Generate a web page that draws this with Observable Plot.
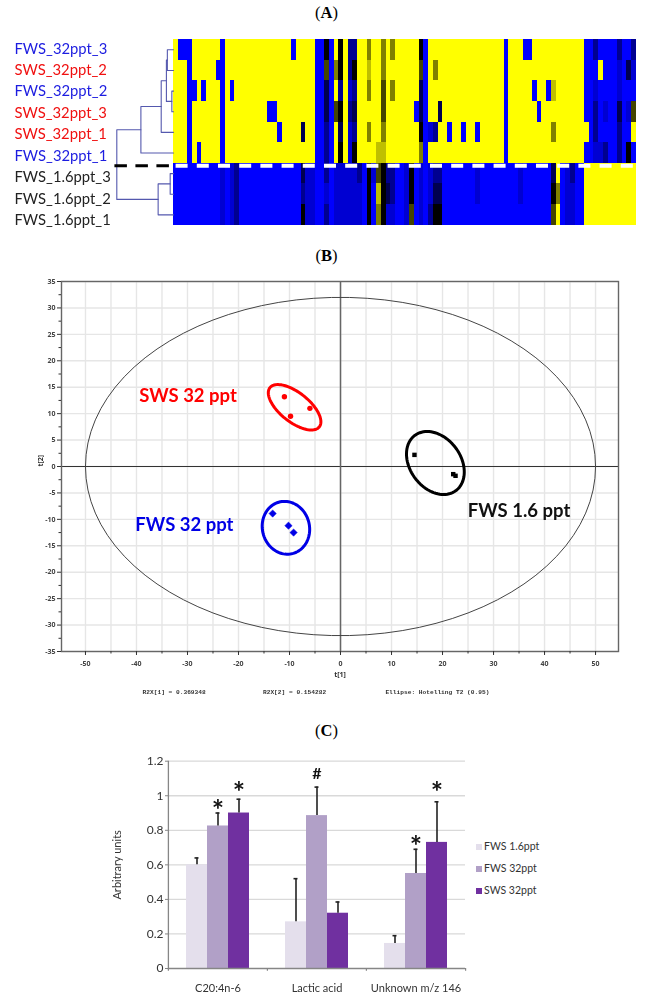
<!DOCTYPE html>
<html><head><meta charset="utf-8">
<script src="https://cdn.jsdelivr.net/npm/d3@7"></script>
<script src="https://cdn.jsdelivr.net/npm/@observablehq/plot@0.6"></script>
<style>
html,body{margin:0;padding:0;background:#fff}
#page{position:relative;width:645px;height:1000px;overflow:hidden}
.panel{position:absolute;left:0;filter:blur(0.3px)}
.panel svg{display:block;overflow:visible}
.tag{position:absolute;left:0;width:653px;text-align:center;font:16.5px "Liberation Serif",serif;line-height:20px;color:#000}
.tag b{font-weight:700}
.lg{position:absolute;left:476px;font:10.5px Lato,sans-serif;color:#333;white-space:nowrap}
.lg i{position:absolute;left:0;top:3px;width:6px;height:6px}
.lg span{position:absolute;left:8px;top:-1px}
</style></head><body><div id="page"></div>
<script>
// ---------- Panel A: heat map ----------
const sampleNames = ["FWS_32ppt_3","SWS_32ppt_2","FWS_32ppt_2","SWS_32ppt_3","SWS_32ppt_1","FWS_32ppt_1","FWS_1.6ppt_3","FWS_1.6ppt_2","FWS_1.6ppt_1"];
const sampleColors = ["#1c1ce0","#f01010","#1c1ce0","#f01010","#f01010","#1c1ce0","#222","#222","#222"];
// level per metabolite: 0 blue ... 4 black ... 8 yellow
const heatRows = [
"8000888888 0888888888 8888808888 0040848228 8688686888 8840888888 8888888888 0888008888 8888888002 00002002",
"8880888880 0888888888 8888888888 0050648248 8788688888 8850868888 8888888888 0888888888 8888888000 80001031",
"8880080888 0808888888 8888888888 0030828128 8688586888 8830888888 8888888888 0888880880 7888888001 00001000",
"8880888888 0888888888 0088888888 0030548238 8888588888 8030883888 8888888888 0888888088 8888888002 01003015",
"8880888888 0888888888 8808888388 0020838128 8688688888 8840128808 8088088888 0888888888 6888888802 00002008",
"8880808888 0888888888 8888888888 0020848148 8887788888 8860888888 8888888888 0888888888 8888888001 12002040",
"0000000000 1012000000 0000000311 0020111112 0415422001 4010122000 0000100000 0001000000 3801200888 88888888",
"0000000000 1012000000 0000000211 0010111111 0407432001 4010133000 0000100000 0001000000 4601100888 88888888",
"0000000000 1012000000 0000000411 0020111111 0406411001 5010244000 0000000000 0000000000 5801100888 88888888"
];
const heatColors = ["#0000ff","#0000d2","#000090","#000050","#000000","#444400","#808000","#bfbf00","#ffff00"];
// dendrogram merges: children are leaf rows ("r") or earlier merges ("m"), height in column widths
const merges = [
  {a:"r0",b:"r1",h:1.3},{a:"r2",b:"r3",h:0.35},{a:"m0",b:"m1",h:1.5},
  {a:"m2",b:"r4",h:2.6},{a:"m3",b:"r5",h:6.9},{a:"r6",b:"r7",h:0.7},
  {a:"m5",b:"r8",h:3.25},{a:"m4",b:"m6",h:12}
];
// ---------- Panel B: score plot ----------
const swsPoints = [[-11,13.2],[-6,11],[-9.8,9.5]];
const fws32Points = [[-13.3,-8.9],[-10.2,-11.2],[-9.2,-12.5]];
const fws16Points = [[14.5,2.2],[22.1,-1.45],[22.55,-1.76]];
const gridX = [-50,-45,-40,-35,-30,-25,-20,-15,-10,-5,0,5,10,15,20,25,30,35,40,45,50];
const gridY = [-35,-30,-25,-20,-15,-10,-5,0,5,10,15,20,25,30,35];
const labelX = [-50,-40,-30,-20,-10,0,10,20,30,40,50];
const minorY = [-32.5,-27.5,-22.5,-17.5,-12.5,-7.5,-2.5,2.5,7.5,12.5,17.5,22.5,27.5,32.5];
const rings = [ // centre, semi-axes, tilt degrees, colour
  {c:[-9,11.2],r:[6.1,2.8],t:-37,s:"#ff0000"},
  {c:[-10.7,-11.6],r:[5.05,4.6],t:-70,s:"#0000e6"},
  {c:[18.6,0.66],r:[6.6,4.9],t:-50,s:"#000"}
];
const groupLabels = [
  {t:"SWS 32 ppt",x:-29.9,y:13.4,c:"#ff0000"},
  {t:"FWS 32 ppt",x:-30.6,y:-11,c:"#0000e6"},
  {t:"FWS 1.6 ppt",x:35,y:-8.5,c:"#111"}
];
const footnotes = [
  {t:"R2X[1] = 0.369348",x:-38.8},
  {t:"R2X[2] = 0.154282",x:-15.2},
  {t:"Ellipse: Hotelling T2 (0.95)",x:8.8}
];
// ---------- Panel C: bars ----------
const categories = ["C20:4n-6","Lactic acid","Unknown m/z 146"];
const seriesNames = ["FWS 1.6ppt","FWS 32ppt","SWS 32ppt"];
const seriesColors = ["#e4dfec","#b1a0c7","#7030a0"];
const barMeans = [[0.60,0.825,0.90],[0.27,0.885,0.32],[0.145,0.55,0.73]];
const barTops  = [[0.64,0.90,0.98],[0.52,1.05,0.385],[0.19,0.69,0.965]];
const marks_c = [
  {c:0,s:1,m:"*",y:0.913},{c:0,s:2,m:"*",y:1.015},{c:1,s:1,m:"#",y:1.127},
  {c:2,s:1,m:"*",y:0.703},{c:2,s:2,m:"*",y:1.015}
];
const yTicksC = [0,0.2,0.4,0.6,0.8,1,1.2];

const page = document.getElementById("page");
function place(node, top){ const d=document.createElement("div"); d.className="panel"; d.style.top=top+"px"; d.appendChild(node); page.appendChild(d); }
function tag(letter, top){ const d=document.createElement("div"); d.className="tag"; d.style.top=top+"px"; d.innerHTML="(<b>"+letter+"</b>)"; page.appendChild(d); }

// Panel A
const cells = heatRows.flatMap((s,r)=>[...s.replace(/ /g,"")].map((ch,i)=>({i,r,v:+ch})));
const nodes = [];
const pos = id => id[0]==="r" ? {x:0,y:+id.slice(1)+0.5} : nodes[+id.slice(1)];
const dendro = merges.flatMap((m,k)=>{
  const A=pos(m.a),B=pos(m.b),x=-m.h;
  nodes.push({x,y:(A.y+B.y)/2});
  return [{k,x:A.x,y:A.y},{k,x,y:A.y},{k,x,y:B.y},{k,x:B.x,y:B.y}];
});
place(Plot.plot({
  width:645,height:240,margin:0,
  x:{domain:[-36.62,99.92],range:[0,645],axis:null},
  y:{domain:[-1.8905,9.743],range:[0,240],axis:null},
  color:{type:"linear",domain:heatColors.map((c,i)=>i),range:heatColors},
  marks:[
    Plot.rect(cells,{x1:"i",x2:d=>d.i+1,y1:"r",y2:d=>d.r+1,fill:"v",shapeRendering:"crispEdges"}),
    Plot.line(dendro,{x:"x",y:"y",z:"k",stroke:"#5458ae",strokeWidth:1.1,curve:"linear"}),
    Plot.ruleY([6.12],{x1:-12.4,x2:0,stroke:"#000",strokeWidth:3,strokeDasharray:"12.5,8.5"}),
    Plot.ruleY([6.12],{x1:0.55,x2:98,stroke:"#fff",strokeWidth:4,strokeDasharray:"12,9.2"}),
    Plot.text(sampleNames,{x:()=>-33.66,y:(d,i)=>0.45+1.04*i,text:d=>d,fill:(d,i)=>sampleColors[i],textAnchor:"start",fontFamily:"Lato",fontSize:14.8})
  ]
}),0);

// Panel B
const ellipse=(cx,cy,a,b,t)=>{const c=Math.cos(t*Math.PI/180),s=Math.sin(t*Math.PI/180);
  return d3.range(0,361,4).map(k=>{const u=a*Math.cos(k*Math.PI/180),v=b*Math.sin(k*Math.PI/180);return {x:cx+u*c-v*s,y:cy+u*s+v*c};});};
const pts=(a)=>a.map(([x,y])=>({x,y}));
place(Plot.plot({
  width:645,height:430,marginLeft:61,marginRight:27,marginTop:11,marginBottom:49,
  x:{domain:[-54.7,54.5]},
  y:{domain:[-35,35]},
  marks:[
    Plot.ruleX(gridX,{stroke:"#e6e6e6",strokeWidth:1.4}),
    Plot.ruleY(gridY,{stroke:"#e6e6e6",strokeWidth:1.4}),
    Plot.ruleY([0],{stroke:"#333",strokeWidth:1}),
    Plot.ruleX([0],{stroke:"#666",strokeWidth:1.5}),
    Plot.line(ellipse(0,0,50,32,0),{x:"x",y:"y",stroke:"#444",strokeWidth:1}),
    ...rings.map(r=>Plot.line(ellipse(r.c[0],r.c[1],r.r[0],r.r[1],r.t),{x:"x",y:"y",stroke:r.s,strokeWidth:3})),
    Plot.dot(pts(swsPoints),{x:"x",y:"y",fill:"#ff0000",r:2.7}),
    Plot.dot(pts(fws32Points),{x:"x",y:"y",fill:"#0000e6",symbol:"diamond2",r:3.3,stroke:"#0000e6",strokeWidth:0.5}),
    Plot.dot(pts(fws16Points),{x:"x",y:"y",fill:"#000",symbol:"square",r:2.5}),
    Plot.text(groupLabels,{x:"x",y:"y",text:"t",fill:"c",fontFamily:"Lato",fontWeight:700,fontSize:18.5}),
    Plot.frame({stroke:"#666",strokeWidth:1.4}),
    Plot.axisX({ticks:labelX,tickSize:4,tickPadding:6,fontSize:7,fontWeight:700,fill:"#444",stroke:"#333",label:null,tickFormat:d=>String(d)}),
    Plot.axisX({ticks:gridX,tickSize:2.5,text:null,stroke:"#333",label:null}),
    Plot.axisY({ticks:gridY,tickSize:4,tickPadding:2,fontSize:7,fontWeight:700,fill:"#444",stroke:"#333",label:null,tickFormat:d=>String(d)}),
    Plot.axisY({ticks:minorY,tickSize:2.5,text:null,stroke:"#333",label:null}),
    Plot.text(["t[1]"],{frameAnchor:"bottom",dy:25,fontSize:7,fontWeight:700,fill:"#333"}),
    Plot.text(["t[2]"],{frameAnchor:"left",dx:-21,rotate:-90,fontSize:7,fontWeight:700,fill:"#333"}),
    Plot.text(footnotes,{x:"x",y:()=>-35,dy:41,text:"t",textAnchor:"start",fontFamily:"Liberation Mono",fontWeight:700,fontSize:6.2,fill:"#333"})
  ]
}),270);

// Panel C
const bars = categories.flatMap((c,i)=>seriesNames.map((s,j)=>({c,s,m:barMeans[i][j],t:barTops[i][j]})));
const plotC = Plot.plot({
  width:645,height:275,marginLeft:168,marginRight:179.3,marginTop:35.7,marginBottom:32,
  fx:{domain:categories,padding:0,label:null},
  x:{domain:seriesNames,paddingOuter:0.755,paddingInner:0,axis:null},
  y:{domain:[0,1.2]},
  color:{domain:seriesNames,range:seriesColors},
  marks:[
    Plot.ruleY(yTicksC.slice(1),{stroke:"#d9d9d9",strokeWidth:1.3}),
    Plot.barY(bars,{fx:"c",x:"s",y:"m",fill:"s"}),
    Plot.ruleX(bars,{fx:"c",x:"s",y1:"m",y2:"t",stroke:"#222",strokeWidth:1.6}),
    Plot.tickY(bars,{fx:"c",x:"s",y:"t",stroke:"#222",strokeWidth:1.6,insetLeft:8.5,insetRight:8.5}),
    Plot.text(marks_c,{fx:d=>categories[d.c],x:d=>seriesNames[d.s],y:"y",text:"m",fontFamily:"Lato",fontWeight:700,fontSize:d=>d.m==="#"?16:29,fill:"#111",lineAnchor:"middle"}),
    Plot.ruleY([0],{stroke:"#868686",strokeWidth:1.3}),
    Plot.ruleX(categories,{fx:d=>d,x:()=>seriesNames[1],y1:0,y2:-0.016,dx:-49.6,stroke:"#868686",strokeWidth:1.2}),
    Plot.ruleX([categories[2]],{fx:d=>d,x:()=>seriesNames[1],y1:0,y2:-0.016,dx:49.6,stroke:"#868686",strokeWidth:1.2}),
    Plot.ruleX([categories[0]],{fx:d=>d,x:()=>seriesNames[1],y1:-0.008,y2:1.2,dx:-49.6,stroke:"#868686",strokeWidth:1.3}),
    Plot.axisY({ticks:yTicksC,tickSize:3,tickPadding:2,fontFamily:"Lato",fontSize:12,fill:"#333",stroke:"#868686",label:null,tickFormat:d=>String(d)}),
    Plot.axisFx({anchor:"bottom",tickSize:0,tickPadding:16,fontFamily:"Lato",fontSize:11,fill:"#333",label:null}),
    Plot.text(["Arbitrary units"],{fx:()=>categories[0],x:()=>seriesNames[1],y:()=>0.6,dx:-100.5,rotate:-90,fontFamily:"Lato",fontSize:11,fill:"#333"})
  ]
});
place(plotC,725);
seriesNames.forEach((s,i)=>{
  const d=document.createElement("div"); d.className="lg"; d.style.top=(840.5+22.3*i)+"px";
  d.innerHTML='<i style="background:'+seriesColors[i]+'"></i><span>'+s+'</span>';
  page.appendChild(d);
});
tag("A",3); tag("B",246); tag("C",721);
</script></body></html>
